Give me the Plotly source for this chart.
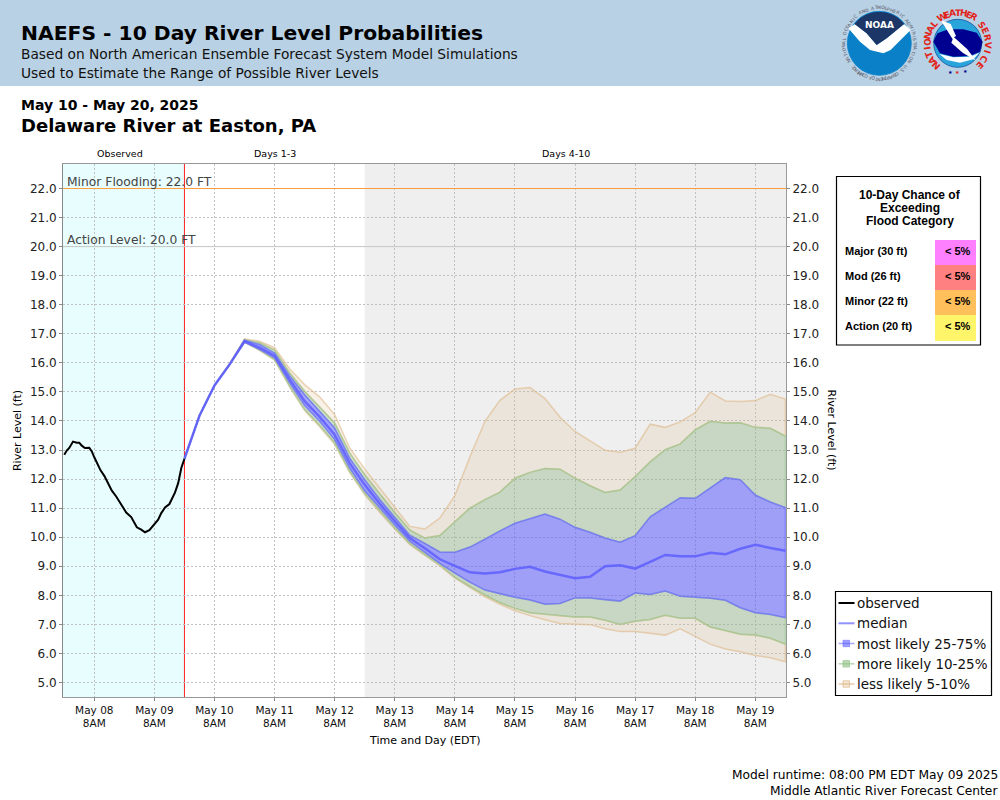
import math
import pandas as pd
import plotly.graph_objects as go

# ---------- data ----------
observed_times = ["2025-05-07 20:00","2025-05-07 21:00","2025-05-07 22:00","2025-05-07 23:30","2025-05-08 01:00","2025-05-08 02:00",
    "2025-05-08 03:00","2025-05-08 04:15","2025-05-08 06:00","2025-05-08 07:00","2025-05-08 08:00","2025-05-08 09:00",
    "2025-05-08 10:30","2025-05-08 12:00","2025-05-08 13:30","2025-05-08 15:00","2025-05-08 16:45","2025-05-08 18:45",
    "2025-05-08 20:45","2025-05-08 22:45","2025-05-09 01:00","2025-05-09 02:45","2025-05-09 04:15","2025-05-09 06:00",
    "2025-05-09 08:00","2025-05-09 09:30","2025-05-09 10:45","2025-05-09 12:15","2025-05-09 14:00","2025-05-09 16:15",
    "2025-05-09 17:30","2025-05-09 18:45","2025-05-09 20:00"]
observed = [12.84,12.98,13.07,13.29,13.25,13.25,13.15,13.07,13.08,12.95,12.75,12.57,12.30,12.11,11.86,11.60,11.40,11.14,
    10.85,10.69,10.34,10.26,10.17,10.24,10.46,10.60,10.83,11.02,11.14,11.54,11.86,12.38,12.70]

forecast_times = pd.date_range("2025-05-09 20:00", periods=41, freq="6h").strftime("%Y-%m-%d %H:%M").tolist()
median = [12.7,14.18,15.22,15.94,16.75,16.52,16.25,15.43,14.68,14.14,13.53,12.55,11.8,11.15,10.55,9.97,9.62,9.24,9.01,8.79,
    8.75,8.79,8.91,8.98,8.82,8.71,8.59,8.64,9.0,9.03,8.92,9.15,9.39,9.34,9.34,9.46,9.41,9.6,9.74,9.63,9.53]
p95 = [12.7,14.18,15.22,15.96,16.83,16.74,16.52,15.8,15.25,14.83,14.22,13.07,12.35,11.7,11.03,10.37,10.28,10.66,11.43,12.76,
    13.99,14.71,15.1,15.15,14.77,14.13,13.64,13.3,12.99,12.92,13.06,13.89,13.78,13.97,14.29,14.99,14.69,14.67,14.7,14.92,14.75]
p90 = [12.7,14.18,15.22,15.95,16.8,16.69,16.44,15.66,15.02,14.48,13.93,12.9,12.15,11.5,10.85,10.25,9.97,10.06,10.54,11.0,
    11.29,11.55,12.03,12.23,12.36,12.34,12.03,11.77,11.54,11.62,12.09,12.59,13.01,13.21,13.69,13.99,13.93,13.94,13.78,13.75,13.48]
p75 = [12.7,14.18,15.22,15.94,16.78,16.63,16.34,15.56,14.9,14.33,13.76,12.72,11.98,11.3,10.68,10.07,9.79,9.49,9.48,9.66,
    9.93,10.22,10.48,10.63,10.8,10.62,10.34,10.17,9.97,9.83,10.05,10.7,11.03,11.36,11.34,11.69,12.05,11.98,11.45,11.21,11.02]
p25 = [12.7,14.18,15.22,15.94,16.71,16.46,16.17,15.31,14.53,13.99,13.36,12.38,11.6,11.0,10.42,9.86,9.47,9.1,8.76,8.45,
    8.18,8.06,7.93,7.84,7.69,7.72,7.91,7.91,7.85,7.8,8.08,8.03,8.15,7.97,7.93,7.9,7.83,7.57,7.4,7.34,7.23]
p10 = [12.7,14.18,15.22,15.94,16.71,16.44,16.11,15.2,14.39,13.84,13.24,12.26,11.5,10.9,10.32,9.78,9.4,9.05,8.62,8.3,
    8.01,7.75,7.55,7.40,7.34,7.30,7.25,7.25,7.14,7.0,7.11,7.17,7.31,7.21,7.21,6.91,6.79,6.66,6.63,6.52,6.32]
p5 = [12.7,14.18,15.22,15.94,16.71,16.43,16.09,15.17,14.36,13.8,13.2,12.22,11.46,10.85,10.28,9.74,9.36,9.01,8.59,8.26,
    7.95,7.69,7.47,7.30,7.16,7.03,7.01,6.99,6.85,6.75,6.75,6.68,6.63,6.85,6.59,6.32,6.15,6.06,5.93,5.85,5.71]

tick_dates = ["2025-05-%02d 08:00" % d for d in range(8, 20)]
tick_labels = ["May %02d<br>8AM" % d for d in range(8, 20)]
y_ticks = list(range(5, 23))
y_labels = ["%.1f" % v for v in y_ticks]

flood_rows = ["Major (30 ft)", "Mod (26 ft)", "Minor (22 ft)", "Action (20 ft)"]
flood_chance = ["< 5%", "< 5%", "< 5%", "< 5%"]
flood_colors = ["#ff80ff", "#ff8080", "#ffbf5a", "#fff56a"]
legend_names = ["observed", "median", "most likely 25-75%", "more likely 10-25%", "less likely 5-10%"]

# ---------- styles ----------
W, H = 1000, 800
DJ = "DejaVu Sans"
LB = "Liberation Sans"
TAN_F, TAN_L = "rgba(222,184,135,0.2)", "rgba(222,184,135,0.6)"
GRN_F, GRN_L = "rgba(140,180,130,0.4)", "rgba(150,200,140,0.6)"
BLU_F, BLU_L = "rgba(80,80,255,0.5)", "rgba(110,110,255,0.7)"
MED = "rgba(90,90,255,0.8)"
XRANGE = ["2025-05-07 19:30", "2025-05-19 20:15"]
YRANGE = [4.5, 22.843]
NOW = "2025-05-09 20:00"
DAY3 = "2025-05-12 20:00"
GRID = "2px,2px"
GRIDC = "#c0c0c0"

px = lambda x: x / W
py = lambda y: 1 - y / H

fig = go.Figure()

def band(low, high, fill, line):
    fig.add_trace(go.Scatter(x=forecast_times + forecast_times[::-1], y=high + low[::-1], mode="lines",
                             fill="toself", fillcolor=fill, line=dict(color=line, width=1.5),
                             showlegend=False, hoverinfo="skip"))

band(p90, p95, TAN_F, TAN_L)
band(p5, p10, TAN_F, TAN_L)
band(p75, p90, GRN_F, GRN_L)
band(p10, p25, GRN_F, GRN_L)
band(p25, p75, BLU_F, BLU_L)

fig.add_trace(go.Scatter(x=observed_times, y=observed, mode="lines", name="observed", showlegend=False, line=dict(color="black", width=2)))
fig.add_trace(go.Scatter(x=forecast_times, y=median, mode="lines", name="median", showlegend=False, yaxis="y2", line=dict(color=MED, width=2.5)))

shapes = [
    dict(type="rect", xref="paper", yref="paper", x0=0, x1=1, y0=py(86), y1=1, fillcolor="#b9d1e4", line_width=0, layer="below"),
    dict(type="rect", xref="x", yref="y", x0=XRANGE[0], x1=NOW, y0=YRANGE[0], y1=YRANGE[1], fillcolor="#e8fdfd", line_width=0, layer="below"),
    dict(type="rect", xref="x", yref="y", x0=DAY3, x1=XRANGE[1], y0=YRANGE[0], y1=YRANGE[1], fillcolor="#efefef", line_width=0, layer="below"),
    dict(type="line", xref="x", yref="y", x0=NOW, x1=NOW, y0=YRANGE[0], y1=YRANGE[1], line=dict(color="#ff2020", width=1), layer="below"),
    dict(type="line", xref="x", yref="y", x0=XRANGE[0], x1=XRANGE[1], y0=22, y1=22, line=dict(color="#ff9d3c", width=1)),
    dict(type="line", xref="x", yref="y", x0=XRANGE[0], x1=XRANGE[1], y0=20, y1=20, line=dict(color="#c8c8c8", width=1)),
    # flood table frame
    dict(type="rect", xref="paper", yref="paper", x0=px(836.5), x1=px(980.5), y0=py(345), y1=py(176.5), fillcolor="white", line=dict(color="black", width=1.2)),
    # legend frame
    dict(type="rect", xref="paper", yref="paper", x0=px(835.5), x1=px(991.5), y0=py(695.5), y1=py(591.5), fillcolor="white", line=dict(color="black", width=1.2)),
]
cell_edges = [240, 265, 290, 315, 341]
for i, c in enumerate(flood_colors):
    shapes.append(dict(type="rect", xref="paper", yref="paper", x0=px(935), x1=px(976), y0=py(cell_edges[i + 1]), y1=py(cell_edges[i]), fillcolor=c, line_width=0))

annotations = []
def ann(text, x, y, size, color="black", anchor="left", family=DJ, angle=0):
    annotations.append(dict(text=text, x=px(x), y=py(y), xref="paper", yref="paper", xanchor=anchor, yanchor="middle",
                            showarrow=False, textangle=angle, borderpad=0, borderwidth=0,
                            font=dict(family=family, size=size, color=color)))

# legend entries (a line 16 px long is narrower than Plotly's own legend allows)
legend_rows = [603, 623.3, 643.5, 663.8, 684]
legend_line = ["black", "rgba(110,110,255,0.75)", "rgba(110,110,255,0.6)", "rgba(150,200,140,0.7)", "rgba(222,184,135,0.7)"]
legend_box = [None, None, "rgba(80,80,255,0.55)", "rgba(140,190,130,0.6)", "rgba(222,184,135,0.35)"]
for name, y, lc, bc in zip(legend_names, legend_rows, legend_line, legend_box):
    shapes.append(dict(type="line", xref="paper", yref="paper", x0=px(838.5), x1=px(854.5), y0=py(y), y1=py(y), line=dict(color=lc, width=2 if bc is None else 1.5)))
    if bc:
        shapes.append(dict(type="rect", xref="paper", yref="paper", x0=px(843), x1=px(849.5), y0=py(y + 3.2), y1=py(y - 3.2), fillcolor=bc, line=dict(color=lc, width=1)))
    ann(name, 857, y, 13.5, "#111")

ann("<b>NAEFS - 10 Day River Level Probabilities</b>", 21, 33, 20.3)
ann("Based on North American Ensemble Forecast System Model Simulations", 21, 54, 13.75, "#111")
ann("Used to Estimate the Range of Possible River Levels", 21, 73, 13.75, "#111")
ann("<b>May 10 - May 20, 2025</b>", 21, 105, 14)
ann("<b>Delaware River at Easton, PA</b>", 21, 126, 18)
ann("Observed", 120, 153.5, 9.5, anchor="center")
ann("Days 1-3", 275, 153.5, 9.5, anchor="center")
ann("Days 4-10", 566, 153.5, 9.5, anchor="center")
ann("Minor Flooding: 22.0 FT", 66.5, 182, 12.3, "#444")
ann("Action Level: 20.0 FT", 66.5, 240, 12.3, "#444")
ann("Time and Day (EDT)", 425, 740, 11, anchor="center")
ann("River Level (ft)", 831.5, 430, 11, angle=90, anchor="center")
ann("Model runtime: 08:00 PM EDT May 09 2025", 998, 775, 12.25, anchor="right")
ann("Middle Atlantic River Forecast Center", 998, 791, 12.25, anchor="right")
for t, y in [("10-Day Chance of", 195), ("Exceeding", 208), ("Flood Category", 221)]:
    ann("<b>%s</b>" % t, 910, y, 12, anchor="center", family=LB)
for i, (r, c) in enumerate(zip(flood_rows, flood_chance)):
    y = 251 + 25 * i
    ann("<b>%s</b>" % r, 845, y, 11, family=LB)
    ann("<b>%s</b>" % c.replace("<", "&lt;"), 957.5, y, 11, anchor="center", family=LB)

# ---------- logos drawn with shapes ----------
def path_from(pts):
    return "M " + " L ".join("%.5f %.5f" % (px(a), py(b)) for a, b in pts) + " Z"
def circle(cx, cy, r, fill, line=None):
    shapes.append(dict(type="circle", xref="paper", yref="paper", x0=px(cx - r), x1=px(cx + r), y0=py(cy + r), y1=py(cy - r),
                       fillcolor=fill, line=dict(color=line or fill, width=0.8)))
def poly(pts, fill):
    shapes.append(dict(type="path", xref="paper", yref="paper", path=path_from(pts), fillcolor=fill, line_width=0))
zo = lambda a, b: (820 + a / 3, b / 3)

nx, ny = 879.3, 43.3
circle(nx, ny, 32, "#0a80c8")
poly([zo(*p) for p in [(85,85),(105,72),(140,100),(170,135),(200,115),(252,72),(272,90),(232,130),(212,150),(190,160),(150,150),(120,125)]], "white")
arc = [(nx + 31.5 * math.sin(math.radians(t)), ny - 31.5 * math.cos(math.radians(t))) for t in range(-52, 53, 8)]
poly(arc + [zo(200,115), zo(170,135), zo(140,100)], "#1d3668")
ann("<b>NOAA</b>", nx, 25.5, 9, "white", anchor="center")
def ring(text, cx, cy, R, start, end, size, color, bold=False):
    n = len(text)
    for k, ch in enumerate(text):
        if ch == " ":
            continue
        t = start + (end - start) * k / (n - 1)
        x, y = cx + R * math.sin(math.radians(t)), cy - R * math.cos(math.radians(t))
        s = "<b>%s</b>" % ch if bold else ch
        ann(s, x, y, size, color, anchor="center", angle=t)
ring("NATIONAL OCEANIC AND ATMOSPHERIC ADMINISTRATION", nx, ny, 35.5, -120, 120, 4.5, "#556")
ring("U.S. DEPARTMENT OF COMMERCE", nx, ny, 35.5, 132, 228, 4.5, "#556")

wx, wy = 957.7, 43.3
circle(wx, wy, 24, "#2aa5dc", "#1b4fa0")
poly([zo(*p) for p in [(340,125),(352,100),(385,88),(430,88),(470,98),(488,125),(480,155),(450,168),(400,170),(360,160)]], "#000090")
poly([zo(*p) for p in [(358,162),(400,172),(450,170),(478,158),(460,178),(420,188),(380,180)]], "white")
poly([zo(*p) for p in [(362,60),(392,72),(408,108),(402,112),(442,148),(468,182),(428,158),(394,128),(398,118)]], "white")
ring("NATIONAL", wx, wy, 30.5, -136, -50, 9, "#e2231a", bold=True)
ring("WEATHER", wx, wy, 30.5, -30, 32, 9, "#e2231a", bold=True)
ring("SERVICE", wx, wy, 30.5, 52, 134, 9, "#e2231a", bold=True)
for a, b, c in [(390, 215, "#000090"), (413, 216, "#e2231a"), (437, 212, "#000090")]:
    ann("★", *zo(a, b), 5, c, anchor="center")

axis_font = dict(family=DJ, size=12, color="#222")
fig.update_layout(
    width=W, height=H, autosize=False, margin=dict(l=0, r=0, t=0, b=0, autoexpand=False),
    paper_bgcolor="white", plot_bgcolor="white", shapes=shapes, annotations=annotations,
    font=dict(family=DJ, color="black"), showlegend=False,
    xaxis=dict(type="date", domain=[px(63), px(786)], range=XRANGE, tickvals=tick_dates, ticktext=tick_labels,
               tickangle=0, ticks="outside", ticklen=3, tickcolor="#888", tickfont=dict(family=DJ, size=10.5, color="#111"),
               showline=True, linecolor="#999", linewidth=1, mirror=True, gridcolor=GRIDC, griddash=GRID, gridwidth=1,
               zeroline=False, automargin=False),
    yaxis=dict(domain=[1 - 697 / H, 1 - 164 / H], range=YRANGE, tickvals=y_ticks, ticktext=y_labels, ticks="outside", ticklen=3,
               tickcolor="#888", tickfont=axis_font, showline=True, linecolor="#888", linewidth=1,
               gridcolor=GRIDC, griddash=GRID, gridwidth=1, zeroline=False, automargin=False,
               title=dict(text="River Level (ft)", font=dict(family=DJ, size=11), standoff=6)),
    yaxis2=dict(overlaying="y", side="right", anchor="x", range=YRANGE, tickvals=y_ticks, ticktext=y_labels, ticks="outside", ticklen=3,
                tickcolor="#888", tickfont=axis_font, showline=True, linecolor="#999", linewidth=1, showgrid=False, zeroline=False, automargin=False),
    hovermode=False,
)

fig.write_html("out.html", config={"displayModeBar": False},
               post_script="document.body.style.margin='0';document.documentElement.style.overflow='hidden';")
